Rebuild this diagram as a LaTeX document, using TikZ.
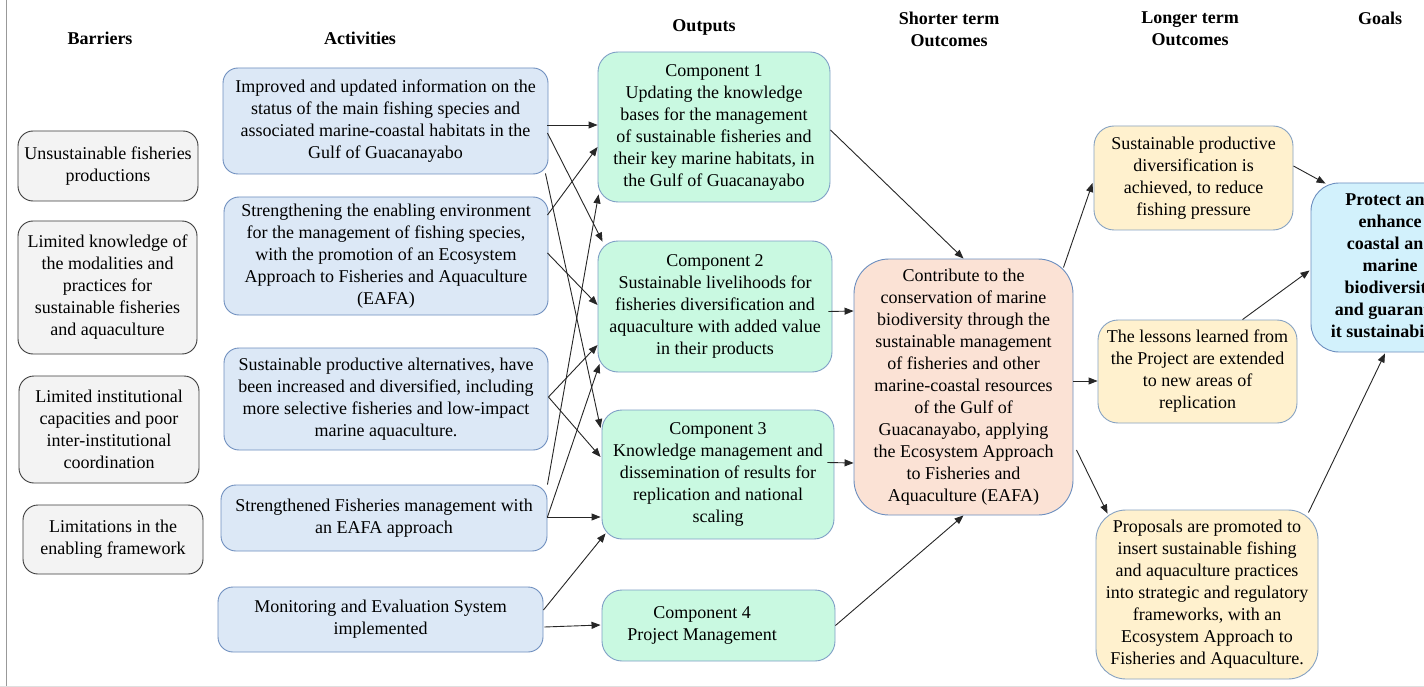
\documentclass[tikz,border=0pt]{standalone}
\usepackage{fontspec}
\setmainfont{LiberationSerif}[Extension=.ttf, UprightFont=*-Regular, BoldFont=*-Bold, ItalicFont=*-Italic, BoldItalicFont=*-BoldItalic]
\usetikzlibrary{arrows.meta,calc}
\definecolor{barfill}{HTML}{F3F3F3}
\definecolor{bardraw}{HTML}{3C3C3C}
\definecolor{actfill}{HTML}{DCE8F6}
\definecolor{actdraw}{HTML}{6F8FBF}
\definecolor{outfill}{HTML}{C9F9E1}
\definecolor{outdraw}{HTML}{7F9FC6}
\definecolor{shfill}{HTML}{FBE2D5}
\definecolor{shdraw}{HTML}{6C8EBF}
\definecolor{lofill}{HTML}{FFF1CE}
\definecolor{lodraw}{HTML}{86A2C2}
\definecolor{gofill}{HTML}{D2F1FC}
\definecolor{godraw}{HTML}{6C8EBF}
\begin{document}
\begin{tikzpicture}[x=1pt,y=-1pt,
  every node/.style={font=\fontsize{18}{22}\selectfont, align=center, inner sep=2pt},
  hdr/.style={font=\fontsize{18}{22}\selectfont\bfseries},
  sz/.style args={#1/#2}{minimum width=#1pt, minimum height=#2pt},
  boxbase/.style={draw, line width=0.9pt},
  barbox/.style={boxbase, fill=barfill, draw=bardraw, rounded corners=15pt},
  actbox/.style={boxbase, fill=actfill, draw=actdraw, rounded corners=15pt},
  outbox/.style={boxbase, fill=outfill, draw=outdraw, rounded corners=20pt},
  shbox/.style={boxbase, fill=shfill, draw=shdraw, rounded corners=35pt},
  lobox/.style={boxbase, fill=lofill, draw=lodraw, rounded corners=#1},
  lobox/.default=20pt,
  gobox/.style={boxbase, fill=gofill, draw=godraw, rounded corners=28pt, font=\fontsize{18}{22}\selectfont\bfseries},
  arr/.style={-{Triangle[length=9pt,width=7pt]}, line width=0.9pt, black!85},
]
\useasboundingbox (0,0) rectangle (1424,687);
\clip (0,0) rectangle (1424,687);
\fill[white] (0,0) rectangle (1424,687);
\draw[gray!80, line width=1pt] (6.5,0) -- (6.5,686);
\draw[gray!25, line width=1pt] (0,686) -- (1424,686);

% headers
\node[hdr] (hB) at (100,38) {Barriers};
\node[hdr] (hA) at (360,38) {Activities};
\node[hdr] (hO) at (704,27) {Outputs};
\node[hdr] (hS) at (949,29) {Shorter term\\Outcomes};
\node[hdr] (hL) at (1190,29) {Longer term\\Outcomes};
\node[hdr] (hG) at (1380,18) {Goals};

% barriers
\node[barbox, sz=180/70] (B1) at (108,166) {Unsustainable fisheries\\productions};
\node[barbox, sz=179/133] (B2) at (107.5,287.5) {Limited knowledge of\\the modalities and\\practices for\\sustainable fisheries\\and aquaculture};
\node[barbox, sz=180/107] (B3) at (109,429.5) {Limited institutional\\capacities and poor\\inter-institutional\\coordination};
\node[barbox, sz=180/69] (B4) at (113,539.5) {Limitations in the\\enabling framework};

% activities
\node[actbox, sz=325/106] (A1) at (385.5,121) {Improved and updated information on the\\status of the main fishing species and\\associated marine-coastal habitats in the\\Gulf of Guacanayabo};
\node[actbox, sz=324/118] (A2) at (386,256) {Strengthening the enabling environment\\for the management of fishing species,\\with the promotion of an Ecosystem\\Approach to Fisheries and Aquaculture\\(EAFA)};
\node[actbox, sz=324/102] (A3) at (386,399) {Sustainable productive alternatives, have\\been increased and diversified, including\\more selective fisheries and low-impact\\marine aquaculture.};
\node[actbox, sz=326/66] (A4) at (384,518) {Strengthened Fisheries management with\\an EAFA approach};
\node[actbox, sz=325/65] (A5) at (380.5,619.5) {Monitoring and Evaluation System\\implemented};

% outputs
\node[outbox, sz=232/150] (C1) at (714,127) {Component 1\\Updating the knowledge\\bases for the management\\of sustainable fisheries and\\their key marine habitats, in\\the Gulf of Guacanayabo};
\node[outbox, sz=234/131] (C2) at (715,306.5) {Component 2\\Sustainable livelihoods for\\fisheries diversification and\\aquaculture with added value\\in their products};
\node[outbox, sz=232/129] (C3) at (718,474.5) {Component 3\\Knowledge management and\\dissemination of results for\\replication and national\\scaling};
\node[outbox, sz=233/71] (C4) at (718.5,625.5) {};
\node (C4t) at (702,625.5) {Component 4\\Project Management};

% shorter term outcome
\node[shbox, sz=219/256] (S) at (963.5,387) {Contribute to the\\conservation of marine\\biodiversity through the\\sustainable management\\of fisheries and other\\marine-coastal resources\\of the Gulf of\\Guacanayabo, applying\\the Ecosystem Approach\\to Fisheries and\\Aquaculture (EAFA)};

% longer term outcomes
\node[lobox, sz=199/104] (L1) at (1193.5,178) {Sustainable productive\\diversification is\\achieved, to reduce\\fishing pressure};
\node[lobox, sz=199/103] (L2) at (1197.5,371.5) {The lessons learned from\\the Project are extended\\to new areas of\\replication};
\node[lobox=30pt, sz=222/169] (L3) at (1207,594.5) {Proposals are promoted to\\insert sustainable fishing\\and aquaculture practices\\into strategic and regulatory\\frameworks, with an\\Ecosystem Approach to\\Fisheries and Aquaculture.};

% goal
\node[gobox, sz=158/169] (G) at (1390,267.5) {Protect and\\enhance\\coastal and\\marine\\biodiversity\\and guarantee\\it sustainability};

% activities -> outputs
\draw[arr] ($(A1.east)+(-1,4)$) -- ($(C1.west)+(0,-2)$);
\draw[arr] ($(A1.east)+(-1,12)$) -- ($(C2.north west)+(5,1)$);
\draw[arr] ($(A1.south east)+(-3,-1)$) -- ($(C3.west)+(-1,-46.5)$);
\draw[arr] ($(A2.east)+(-1,-41)$) -- ($(C1.west)+(0,20)$);
\draw[arr] ($(A2.east)+(-1,-3)$) -- ($(C2.west)+(0,-1.5)$);
\draw[arr] ($(A3.east)+(0,-2)$) -- ($(C2.west)+(0,38.5)$);
\draw[arr] ($(A3.east)+(0,-2)$) -- ($(C3.west)+(-1,-17.5)$);
\draw[arr] (A4.north east) -- ($(C1.south west)+(1,-8)$);
\draw[arr] ($(A4.east)+(0,-1)$) -- ($(C2.west)+(2,57.5)$);
\draw[arr] ($(A4.east)+(0,-1)$) -- ($(C3.west)+(-1,42.5)$);
\draw[arr] ($(A5.east)+(0,-9.5)$) -- ($(C3.south west)+(4,-6)$);
\draw[arr] ($(A5.east)+(1,7.5)$) -- ($(C4.west)+(-1,-0.5)$);

% outputs -> shorter term
\draw[arr] ($(C1.east)+(0,3)$) -- (S.north);
\draw[arr] ($(C2.east)+(-4,5)$) -- ($(S.west)+(0,-76)$);
\draw[arr] ($(C3.east)+(-7,-12)$) -- ($(S.west)+(0,76)$);
\draw[arr] (C4.east) -- (S.south);

% shorter -> longer
\draw[arr] ($(S.north east)+(-10,9)$) -- ($(L1.west)+(-1,5)$);
\draw[arr] ($(S.east)+(0,-6)$) -- ($(L2.west)+(0,9.5)$);
\draw[arr] ($(S.east)+(3,63)$) -- ($(L3.north west)+(12,4)$);

% longer -> goal
\draw[arr] ($(L1.east)+(0,-12)$) -- ($(G.north west)+(15,1)$);
\draw[arr] ($(L2.north)+(45,0)$) -- ($(G.west)+(-1,3)$);
\draw[arr] ($(L3.north east)+(-10,3)$) -- ($(G.south)+(-5,1)$);
\end{tikzpicture}
\end{document}
